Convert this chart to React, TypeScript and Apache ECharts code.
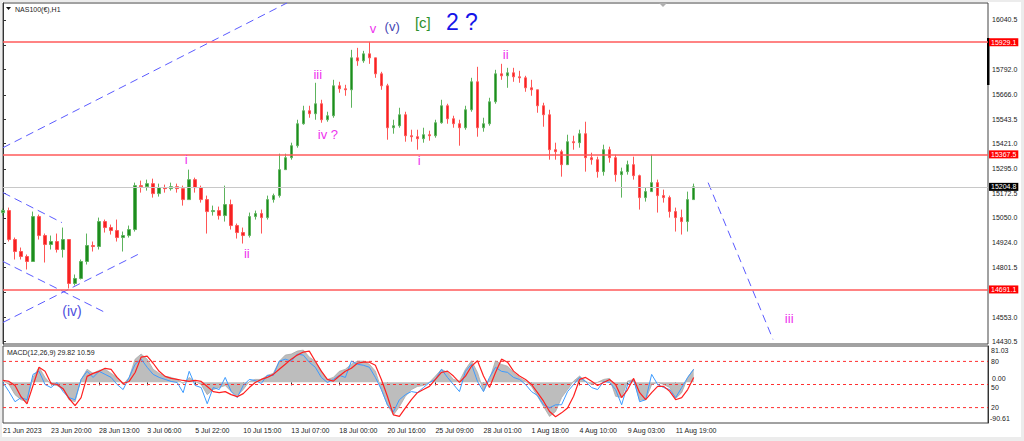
import React, { useEffect, useRef } from "react";
import * as echarts from "echarts";

// ---------- data ----------
const timeLabels = [
  "21 Jun 2023", "23 Jun 20:00", "28 Jun 13:00", "3 Jul 06:00", "5 Jul 22:00",
  "10 Jul 15:00", "13 Jul 07:00", "18 Jul 00:00", "20 Jul 16:00", "25 Jul 09:00",
  "28 Jul 01:00", "1 Aug 18:00", "4 Aug 10:00", "9 Aug 03:00", "11 Aug 19:00",
];
const BARS_PER_LABEL = 8;
const TOTAL_SLOTS = 165;

const firstOpen = 15076;
const closes = [
  15086, 14941, 14881, 14856, 14831, 15056, 14961, 14916, 14931, 14891,
  14941, 14721, 14746, 14831, 14911, 14906, 15031, 15001, 14986, 14951,
  14961, 14991, 15211, 15206, 15221, 15171, 15201, 15196, 15206, 15196,
  15141, 15241, 15201, 15141, 15081, 15086, 15061, 15116, 15011, 14976,
  14961, 15056, 15071, 15051, 15141, 15161, 15291, 15351, 15411, 15521,
  15586, 15571, 15621, 15541, 15561, 15711, 15696, 15691, 15851, 15836,
  15871, 15851, 15771, 15711, 15501, 15511, 15566, 15461, 15456, 15446,
  15466, 15461, 15526, 15611, 15546, 15521, 15501, 15591, 15731, 15501,
  15521, 15631, 15771, 15761, 15776, 15756, 15751, 15701, 15691, 15611,
  15566, 15391, 15381, 15316, 15431, 15426, 15471, 15351, 15341, 15281,
  15391, 15351, 15266, 15281, 15316, 15261, 15151, 15181, 15226, 15161,
  15151, 15081, 15051, 15031, 15141, 15204.8,
];
const highs = [
  15096, 15101, 14951, 14901, 14866, 15081, 15066, 14971, 14961, 14971,
  15001, 14941, 14766, 14841, 14971, 14931, 15051, 15041, 15016, 15041,
  14981, 15011, 15226, 15236, 15241, 15246, 15221, 15216, 15226, 15221,
  15211, 15291, 15251, 15211, 15161, 15111, 15106, 15211, 15141, 15021,
  15001, 15076, 15086, 15091, 15161, 15171, 15371, 15371, 15426, 15541,
  15611, 15611, 15726, 15641, 15581, 15741, 15731, 15716, 15891, 15901,
  15886, 15931, 15851, 15781, 15721, 15541, 15601, 15581, 15491, 15491,
  15501, 15486, 15541, 15641, 15621, 15561, 15541, 15611, 15751, 15806,
  15551, 15651, 15791, 15821, 15801, 15801, 15786, 15761, 15741, 15661,
  15626, 15591, 15426, 15391, 15466, 15461, 15491, 15531, 15376, 15356,
  15416, 15406, 15366, 15301, 15336, 15356, 15266, 15201, 15366, 15241,
  15191, 15161, 15101, 15091, 15181, 15221,
];
const lows = [
  15061, 14931, 14841, 14841, 14791, 14831, 14941, 14826, 14891, 14876,
  14851, 14696, 14711, 14741, 14816, 14881, 14891, 14976, 14966, 14931,
  14881, 14951, 14981, 15176, 15186, 15151, 15156, 15176, 15186, 15176,
  15111, 15141, 15176, 15126, 14971, 15061, 15041, 15031, 14991, 14946,
  14921, 14951, 15041, 14971, 15041, 15126, 15151, 15301, 15341, 15401,
  15516, 15551, 15541, 15526, 15531, 15551, 15676, 15661, 15601, 15811,
  15826, 15821, 15751, 15691, 15441, 15471, 15501, 15431, 15431, 15391,
  15426, 15436, 15451, 15521, 15521, 15501, 15411, 15491, 15581, 15456,
  15481, 15511, 15621, 15741, 15701, 15731, 15726, 15681, 15661, 15576,
  15506, 15341, 15341, 15256, 15341, 15391, 15401, 15281, 15316, 15251,
  15261, 15326, 15231, 15151, 15266, 15241, 15091, 15131, 15181, 15076,
  15126, 15051, 14981, 14966, 14981, 15156,
];

const macdMain = [
  4.2, -4.8, -27.4, -38.7, -43.2, 11.0, 33.6, 11.0, -4.8, -7.0,
  -16.1, -38.7, -43.2, 6.5, 29.1, 20.0, 26.8, 29.1, 20.0, 11.0,
  -4.8, 11.0, 51.7, 63.0, 51.7, 29.1, 20.0, 13.3, 11.0, 6.5,
  -2.5, 11.0, 2.0, -4.8, -27.4, -16.1, -11.6, -7.0, -20.6, -29.6,
  -16.1, 2.0, 6.5, 6.5, 15.5, 20.0, 47.2, 60.7, 63.0, 69.7,
  72.0, 56.2, 47.2, 24.6, 6.5, 11.0, 24.6, 29.1, 40.4, 47.2,
  47.2, 40.4, 25.0, -16.1, -50.0, -72.5, -54.0, -31.0, -16.1, -9.0,
  -7.0, 0.0, 14.0, 29.0, 22.0, 6.5, 2.7, 29.0, 48.0, 22.0,
  -20.0, 6.5, 48.0, 40.0, 36.0, 22.0, 11.0, 2.7, -9.0, -31.0,
  -54.0, -76.0, -65.0, -34.0, -16.0, 2.7, 14.0, 2.7, -4.8, 0.0,
  6.5, 8.8, -31.0, -34.0, 2.7, 6.5, -40.0, -38.7, -4.8, 0.0,
  -4.8, -11.6, -36.0, -23.0, 11.0, 29.82,
];
const macdSignal = [
  4.2, 2.0, -7.0, -31.9, -48.0, -7.0, 33.6, 24.6, -2.5, -4.8,
  -14.0, -36.0, -52.0, -34.1, 13.3, 20.0, 24.6, 31.3, 29.1, 11.0,
  -2.5, 2.0, 22.0, 56.2, 58.4, 42.6, 24.6, 13.3, 8.8, 6.5,
  4.2, 2.0, 4.2, 2.0, -9.3, -20.6, -22.9, -20.6, -27.4, -31.9,
  -25.1, -11.6, -0.3, 6.5, 11.0, 17.8, 29.1, 40.4, 51.7, 60.7,
  67.5, 69.7, 47.0, 25.0, 6.5, 2.7, 14.0, 24.6, 31.3, 42.6,
  44.9, 44.9, 38.1, 6.5, -31.0, -72.5, -76.0, -57.0, -38.7, -23.0,
  -16.0, -9.0, 6.5, 22.0, 25.0, 14.0, 0.0, 14.0, 36.0, 48.0,
  14.0, -11.6, 22.0, 51.7, 45.0, 25.0, 14.0, 6.5, -4.8, -23.0,
  -42.0, -65.0, -76.6, -68.0, -57.0, -31.0, 6.5, 11.0, 2.7, -7.0,
  -0.3, 6.5, -4.8, -34.0, -16.0, 8.8, -23.0, -38.7, -23.0, -9.0,
  -9.0, -20.0, -38.7, -34.0, -16.0, 10.59,
];
const macdFast = [
  -0.3, -20.6, -43.2, -34.1, -38.7, 17.8, 24.6, -4.8, -11.6, -0.3,
  -20.6, -34.1, -38.7, 6.5, 24.6, 11.0, 24.6, 17.8, 11.0, -4.8,
  -16.1, 11.0, 40.4, 51.7, 33.6, 17.8, 11.0, 6.5, 2.0, -0.3,
  -22.9, 24.6, -7.0, -11.6, -47.7, -11.6, -16.1, 11.0, -20.6, -34.1,
  -7.0, 6.5, 4.2, -2.5, 15.5, 15.5, 47.2, 51.7, 47.2, 63.0,
  60.7, 44.9, 33.6, 11.0, -0.3, 6.5, 15.5, 11.0, 47.2, 40.4,
  38.1, 33.6, 11.0, -16.1, -50.0, -65.8, -38.7, -27.4, -20.6, -22.9,
  -11.6, -0.3, 6.5, 29.1, 11.0, -4.8, -20.6, 24.6, 40.4, 2.0,
  -20.6, 11.0, 33.6, 24.6, 22.3, 11.0, 6.5, -4.8, -20.6, -29.6,
  -50.0, -56.7, -50.0, -50.0, -20.6, -4.8, 11.0, 2.0, -11.6, -16.1,
  2.0, -0.3, -16.1, -50.0, -4.8, 6.5, -43.2, -38.7, 17.8, -4.8,
  -11.6, -16.1, -34.1, -11.6, 11.0, 29.1,
];

const priceTickValues = [
  16040.5, 15916.5, 15792.0, 15666.0, 15543.5, 15421.0, 15295.0,
  15172.5, 15050.0, 14924.0, 14801.5, 14677.5, 14553.0, 14430.5,
];
const priceLabelValues = [
  16040.5, 15792.0, 15666.0, 15543.5, 15421.0, 15295.0,
  15172.5, 15050.0, 14924.0, 14801.5, 14553.0, 14430.5,
];
const levelPrices = [15929.1, 15367.5, 14691.1];
const lastPrice = 15204.8;
const macdMax = 81.03;
const macdMin = -90.61;
const oscLevels = [80, 50, 20];

// trend lines, in (bar index, price)
const trendLines = [
  [[0, 15401], [47.3, 16126]],
  [[0, 15176], [9.8, 15026]],
  [[0, 14831], [17.0, 14576]],
  [[0, 14526], [23.1, 14876]],
  [[117.4, 15226], [128.2, 14441]],
];

// wave labels, in (bar index, price)
const waveText = ["(iv)", "i", "ii", "iii", "iv ?", "v", "(v)", "[c]", "2 ?", "i", "ii", "iii"];
const waveBar = [11.5, 30.5, 40.6, 52.4, 54.1, 61.6, 64.8, 69.9, 76.4, 69.3, 83.7, 130.9];
const wavePrice = [14581, 15341, 14871, 15766, 15466, 15996, 16006, 16026, 16031, 15336, 15866, 14546];
const waveKind = ["minorBlue", "mag", "mag", "mag", "mag", "mag", "interBlue", "green", "big", "mag", "mag", "mag"];

// ---------- presentation ----------
const FONT = "'Liberation Sans', Arial, sans-serif";
const waveStyles: Record<string, { color: string; size: number }> = {
  mag: { color: "#ee33ee", size: 13 },
  minorBlue: { color: "#4d4dde", size: 14 },
  interBlue: { color: "#4646b4", size: 13 },
  green: { color: "#2d8f2d", size: 15 },
  big: { color: "#1515e8", size: 23 },
};

const GRID_L = 3;
const GRID_W = 985;
const MAIN_TOP = 3;
const MAIN_H = 341;
const MACD_TOP = 346;
const MACD_H = 77;
const PRICE_MAX = 16125.6;
const PRICE_MIN = 14417.9;

export default function App() {
  const ref = useRef<HTMLDivElement>(null);

  useEffect(() => {
    if (!ref.current) return;
    const chart = echarts.init(ref.current, undefined, { renderer: "svg" });
    const lastIdx = TOTAL_SLOTS - 1;
    const categories = Array.from({ length: TOTAL_SLOTS }, (_, i) => String(i));
    const candles = closes.map((c, i) => {
      const o = i === 0 ? firstOpen : closes[i - 1];
      return [o, c, Math.min(lows[i], o, c), Math.max(highs[i], o, c)];
    });
    const labelShown = (i: number) =>
      i % BARS_PER_LABEL === 0 && i / BARS_PER_LABEL < timeLabels.length;

    const tagLabel = (bg: string) => ({
      show: true,
      position: "end",
      distance: 1,
      formatter: (p: any) => Number(p.value).toFixed(1),
      backgroundColor: bg,
      color: "#ffffff",
      padding: [1, 2, 0, 2],
      fontSize: 7,
      fontFamily: FONT,
    });

    const option: any = {
      animation: false,
      backgroundColor: "#ffffff",
      textStyle: { fontFamily: FONT },
      grid: [
        { left: GRID_L, top: MAIN_TOP, width: GRID_W, height: MAIN_H, show: true, borderColor: "#444", borderWidth: 1 },
        { left: GRID_L, top: MACD_TOP, width: GRID_W, height: MACD_H, show: true, borderColor: "#444", borderWidth: 1 },
      ],
      xAxis: [
        { type: "category", gridIndex: 0, data: categories, boundaryGap: false, show: false },
        {
          type: "category",
          gridIndex: 1,
          data: categories,
          boundaryGap: false,
          axisLine: { show: false },
          axisTick: { show: true, interval: (i: number) => labelShown(i), length: 3, lineStyle: { color: "#333" } },
          axisLabel: {
            interval: (i: number) => labelShown(i),
            formatter: (_v: string, i: number) => timeLabels[i / BARS_PER_LABEL] ?? "",
            align: "left",
            margin: 4,
            fontSize: 7,
            color: "#222",
            fontFamily: FONT,
          },
          splitLine: { show: false },
        },
        { type: "value", gridIndex: 0, min: 0, max: lastIdx, show: false },
      ],
      yAxis: [
        {
          type: "value",
          gridIndex: 0,
          position: "right",
          min: PRICE_MIN,
          max: PRICE_MAX,
          axisLine: { show: true, lineStyle: { color: "#333" } },
          axisTick: { show: true, customValues: priceTickValues, length: 3, lineStyle: { color: "#333" } },
          axisLabel: {
            customValues: priceLabelValues,
            formatter: (v: number) => Number(v).toFixed(1),
            fontSize: 7,
            color: "#222",
            margin: 4,
            fontFamily: FONT,
          },
          splitLine: { show: false },
        },
        {
          type: "value",
          gridIndex: 1,
          position: "right",
          min: macdMin,
          max: macdMax,
          axisLine: { show: true, lineStyle: { color: "#333" } },
          axisTick: { show: false },
          axisLabel: { show: false },
          splitLine: { show: false },
        },
        { type: "value", gridIndex: 1, min: 0, max: 100, show: false },
      ],
      series: [
        {
          type: "candlestick",
          xAxisIndex: 0,
          yAxisIndex: 0,
          data: candles,
          barWidth: 3,
          itemStyle: {
            color: "#1e8c1e",
            color0: "#f52222",
            borderColor: "#5db35d",
            borderColor0: "#ff5555",
            borderWidth: 1,
          },
          markLine: {
            silent: true,
            symbol: ["none", "none"],
            animation: false,
            data: [
              ...levelPrices.map((v) => ({
                yAxis: v,
                lineStyle: { color: "#ff5a5a", width: 1.5, type: "solid" },
                label: tagLabel("#ff0000"),
              })),
              {
                yAxis: lastPrice,
                lineStyle: { color: "#c8c8c8", width: 1, type: "solid" },
                label: tagLabel("#000000"),
              },
            ],
          },
        },
        ...trendLines.map((pts) => ({
          type: "line",
          xAxisIndex: 2,
          yAxisIndex: 0,
          data: pts,
          symbol: "none",
          clip: true,
          silent: true,
          lineStyle: { color: "#5b5bff", width: 1, type: [8, 5] },
        })),
        ...oscLevels.map((lv) => ({
          type: "line",
          xAxisIndex: 1,
          yAxisIndex: 2,
          data: [[0, lv], [lastIdx, lv]],
          symbol: "none",
          silent: true,
          lineStyle: { color: "#ff3030", width: 1, type: [3, 3] },
        })),
        {
          type: "line",
          xAxisIndex: 1,
          yAxisIndex: 1,
          data: macdMain,
          symbol: "none",
          silent: true,
          lineStyle: { color: "#a9a9a9", width: 0.8 },
          areaStyle: { color: "#bdbdbd", opacity: 1 },
        },
        {
          type: "line",
          xAxisIndex: 1,
          yAxisIndex: 1,
          data: macdFast,
          symbol: "none",
          silent: true,
          lineStyle: { color: "#3d9bff", width: 1 },
        },
        {
          type: "line",
          xAxisIndex: 1,
          yAxisIndex: 1,
          data: macdSignal,
          symbol: "none",
          silent: true,
          lineStyle: { color: "#ff2020", width: 1.2 },
        },
      ],
    };
    chart.setOption(option);

    const yPix = (axis: number, v: number) =>
      chart.convertToPixel({ yAxisIndex: axis } as any, v) as number;
    // series 1 is the first trend line: bar-index x axis + price y axis
    const ptPix = (bar: number, price: number) =>
      chart.convertToPixel({ seriesIndex: 1 } as any, [bar, price]) as number[];
    const axisX = GRID_L + GRID_W + 3;
    const txt = (x: number, y: number, text: string, va: string = "middle") => ({
      type: "text",
      x,
      y,
      silent: true,
      style: { text, fill: "#222", fontSize: 7, fontFamily: FONT, verticalAlign: va, align: "left" },
    });
    const strip = (x: number, y: number, w: number, h: number) => ({
      type: "rect",
      silent: true,
      shape: { x, y, width: w, height: h },
      style: { fill: "#ececec" },
    });
    const waveEls = waveText.map((t, i) => {
      const st = waveStyles[waveKind[i]];
      const [px, py] = ptPix(waveBar[i], wavePrice[i]);
      return {
        type: "text",
        x: px,
        y: py,
        silent: true,
        z: 10,
        style: {
          text: t,
          fill: st.color,
          fontSize: st.size,
          fontFamily: FONT,
          align: "center",
          verticalAlign: "middle",
        },
      };
    });

    const zeroY = yPix(1, 0);
    chart.setOption({
      graphic: {
        elements: [
          strip(0, 0, 1024, 2),
          strip(0, 0, 2, 441),
          strip(1021, 0, 3, 441),
          strip(0, 437, 1024, 4),
          {
            type: "polygon",
            silent: true,
            shape: { points: [[6, 7], [11, 7], [8.5, 10]] },
            style: { fill: "#111" },
          },
          txt(15, 9, "NAS100(€),H1"),
          txt(7, 352, `MACD(12,26,9) ${macdMain[macdMain.length - 1].toFixed(2)} ${macdSignal[macdSignal.length - 1].toFixed(2)}`),
          {
            type: "rect",
            silent: true,
            shape: { x: GRID_L + GRID_W - 1, y: 38, width: 2.5, height: 47 },
            style: { fill: "#000" },
          },
          {
            type: "polygon",
            silent: true,
            shape: { points: [[659, 3], [667, 3], [663, 7]] },
            style: { fill: "#b0b0b0" },
          },
          txt(axisX, yPix(1, macdMax) + 1, macdMax.toFixed(2), "top"),
          txt(axisX, yPix(2, oscLevels[0]), String(oscLevels[0])),
          txt(axisX + 1, zeroY - 4, "0.00"),
          txt(axisX, zeroY + 5, String(oscLevels[1])),
          txt(axisX, yPix(2, oscLevels[2]), String(oscLevels[2])),
          txt(axisX - 1, yPix(1, macdMin) - 1, macdMin.toFixed(2), "bottom"),
          ...waveEls,
        ],
      },
    });

    return () => chart.dispose();
  }, []);

  return (
    <div
      ref={ref}
      style={{ position: "fixed", left: 0, top: 0, width: 1024, height: 441 }}
    />
  );
}
